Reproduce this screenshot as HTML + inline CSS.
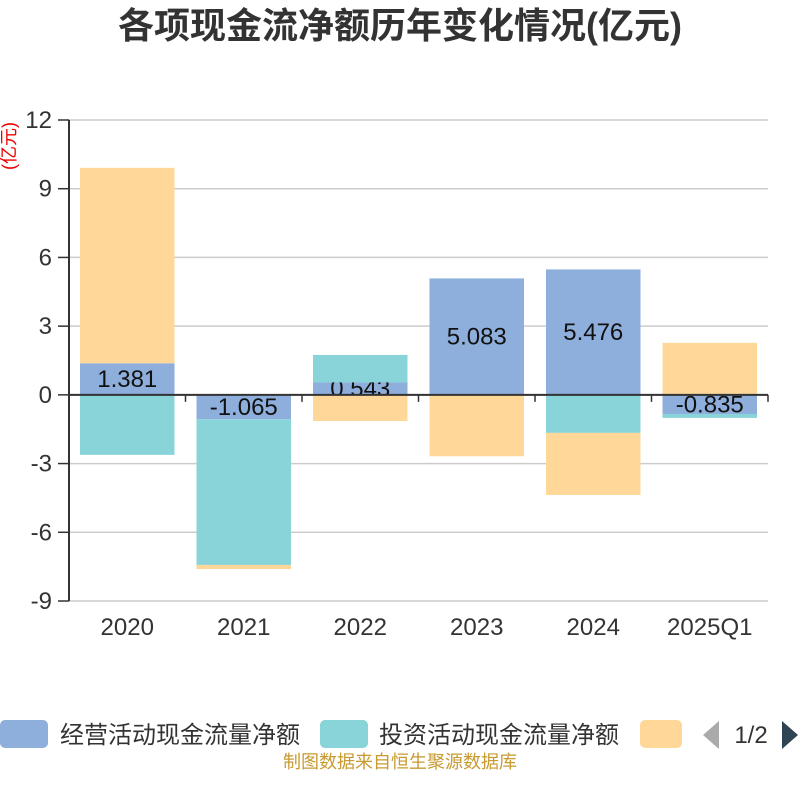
<!DOCTYPE html>
<html><head><meta charset="utf-8"><style>
body{margin:0;background:#fff;font-family:"Liberation Sans","Noto Sans CJK SC",sans-serif}
</style></head><body>
<svg id="c" width="800" height="800" xmlns="http://www.w3.org/2000/svg">
<text x="400" y="38" text-anchor="middle" font-size="36" font-weight="bold" fill="#333" font-family="Liberation Sans,Noto Sans CJK SC,sans-serif">各项现金流净额历年变化情况(亿元)</text>
<text transform="translate(15,146) rotate(-90)" text-anchor="middle" font-size="18" fill="#e00" font-family="Liberation Sans,Noto Sans CJK SC,sans-serif">(亿元)</text>
<g id="grid"></g><g id="bars"></g><g id="axes"></g>
<g font-family="Liberation Sans,Noto Sans CJK SC,sans-serif" font-size="24" fill="#333">
<rect x="0" y="720" width="48" height="28" rx="5" fill="#8eaedc"/>
<text x="60" y="743">经营活动现金流量净额</text>
<rect x="320" y="720" width="48" height="28" rx="5" fill="#88d4d8"/>
<text x="379" y="743">投资活动现金流量净额</text>
<rect x="640" y="720" width="42" height="28" rx="5" fill="#ffd899"/>
<path d="M719 721 L703 735 L719 749 Z" fill="#aaa"/>
<text x="751" y="743" text-anchor="middle">1/2</text>
<path d="M782 721 L798 735 L782 749 Z" fill="#2f4554"/>
</g>
<text x="400" y="768" text-anchor="middle" font-size="18" fill="#c89a30" font-family="Liberation Sans,Noto Sans CJK SC,sans-serif">制图数据来自恒生聚源数据库</text>
</svg>
<script>
const categories=["2020","2021","2022","2023","2024","2025Q1"];
const operating=[1.381,-1.065,0.543,5.083,5.476,-0.835];
const investing=[-2.62,-6.36,1.2,-0.02,-1.66,-0.17];
const financing=[8.53,-0.18,-1.14,-2.66,-2.71,2.27];
const yTicks=[12,9,6,3,0,-3,-6,-9];
const NS="http://www.w3.org/2000/svg";
const x0=69,x1=768,yTop=120,yBot=601,yMax=12,yMin=-9;
const Y=v=>yTop+(yMax-v)/(yMax-yMin)*(yBot-yTop);
const bw=(x1-x0)/categories.length;
function mk(t,a,p){const e=document.createElementNS(NS,t);for(const k in a)e.setAttribute(k,a[k]);p.appendChild(e);return e;}
const grid=document.getElementById('grid'),bars=document.getElementById('bars'),axes=document.getElementById('axes');
yTicks.forEach(v=>{
 const l=mk('line',{x1:x0,x2:x1,y1:Y(v),y2:Y(v),stroke:'#ccc','stroke-width':1.5},grid);
 
 
 const t=mk('line',{x1:58,x2:x0,y1:Y(v),y2:Y(v),stroke:'#333','stroke-width':1.5},axes);
 
 
 const tx=mk('text',{x:52,y:Y(v)+8,'text-anchor':'end','font-size':24,fill:'#333'},axes);
 tx.textContent=v;
 
 
});
const ya=mk('line',{x1:x0,x2:x0,y1:yTop,y2:yBot,stroke:'#333','stroke-width':2},axes);


const xa=mk('line',{x1:x0,x2:x1,y1:Y(0),y2:Y(0),stroke:'#333','stroke-width':2},axes);


for(let i=0;i<=categories.length;i++){
 const t=mk('line',{x1:x0+i*bw,x2:x0+i*bw,y1:Y(0),y2:Y(0)+7,stroke:'#333','stroke-width':1.5},axes);
 
 
}
const series=[[operating,'#8eaedc','operating'],[investing,'#88d4d8','investing'],[financing,'#ffd899','financing']];
categories.forEach((c,i)=>{
 let pos=0,neg=0;const bx=x0+i*bw+11,w=bw-22;
 series.forEach(([vals,col,name],si)=>{
  const v=vals[i];let a,b;
  if(v>=0){a=pos;b=pos+v;pos=b;}else{a=neg;b=neg+v;neg=b;}
  const r=mk('rect',{x:bx,y:Math.min(Y(a),Y(b)),width:w,height:Math.abs(Y(a)-Y(b)),fill:col},bars);
  
  
  if(si===0){
   const t=mk('text',{x:bx+w/2,y:(Y(a)+Y(b))/2+8,'text-anchor':'middle','font-size':24,fill:'#111'},bars);
   t.textContent=v.toFixed(3);
   
   
  }
 });
 const xl=mk('text',{x:x0+i*bw+bw/2,y:635,'text-anchor':'middle','font-size':24,fill:'#333'},axes);
 xl.textContent=c;
 
 
});
</script>
</body></html>
